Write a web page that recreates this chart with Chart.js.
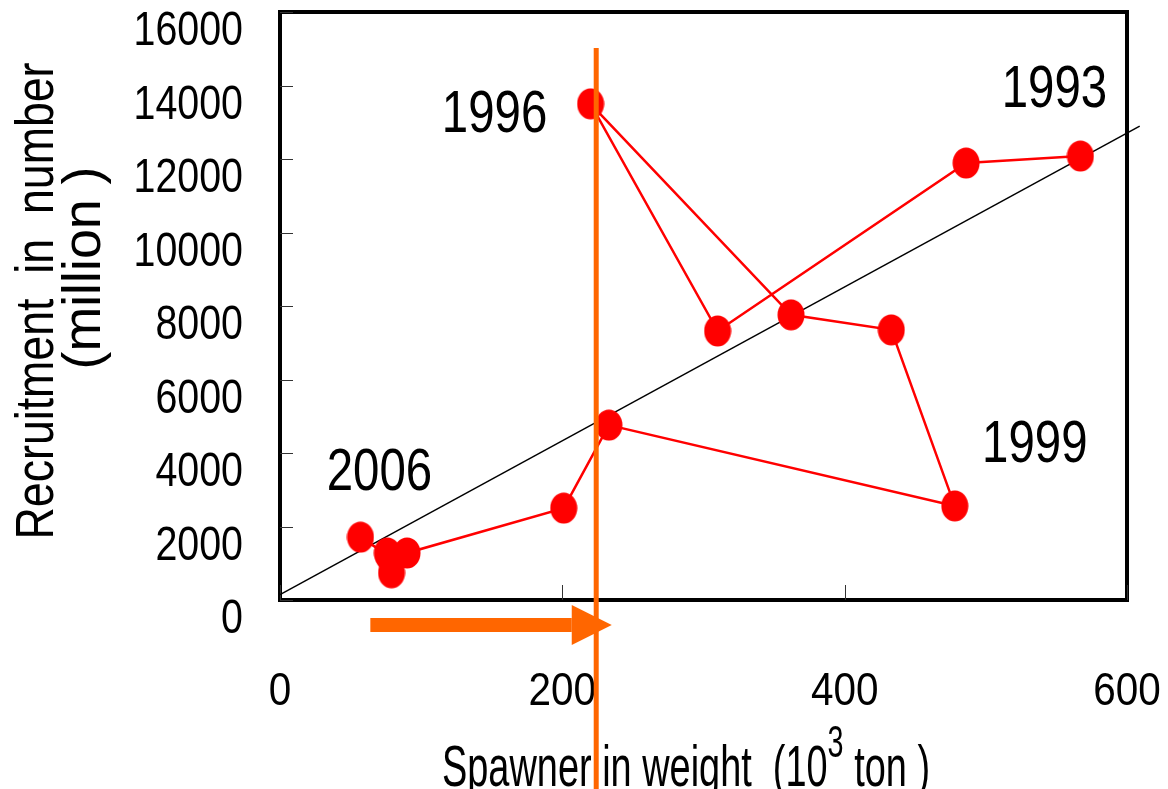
<!DOCTYPE html>
<html>
<head>
<meta charset="utf-8">
<script src="https://cdn.jsdelivr.net/npm/chart.js@4.4.1/dist/chart.umd.min.js"></script>
<style>
  html, body { margin: 0; padding: 0; background: #fff; }
</style>
</head>
<body>
<canvas id="chart" width="1168" height="789"></canvas>
<script>
// stock-recruitment series, one point per year
const years = [1993, 1994, 1995, 1996, 1997, 1998, 1999, 2000, 2001, 2002, 2003, 2004, 2005, 2006];
const spawner = [567, 486, 310, 220, 362, 433, 478, 233, 201, 90, 79, 76, 77, 57];
const recruitment = [12080, 11890, 7320, 13500, 7760, 7350, 2560, 4760, 2500, 1280, 740, 1280, 1200, 1710];
const labelledYears = [1993, 1996, 1999, 2006];

// fitted line (end points)
const regressionX = [0, 609];
const regressionY = [148, 12895];

// orange marker: vertical line and arrow below the axis
const thresholdX = 224;
const thresholdTop = 15020;
const arrowX = [64, 235];

const xTicks = [0, 200, 400, 600];
const yTicks = [0, 2000, 4000, 6000, 8000, 10000, 12000, 14000, 16000];

const FONT = "'Liberation Sans', Arial, sans-serif";
const ORANGE = "#ff6600";

// where the year labels sit relative to their point (px)
const labelOffsets = {
    1993: [-26, -49],
    1996: [-96, 28],
    1999: [80, -44],
    2006: [19, -47],
};

// markers in the original are slightly taller than wide
const dot = document.createElement("canvas");
dot.width = 28;
dot.height = 32;
const dctx = dot.getContext("2d");
dctx.fillStyle = "#ff0000";
dctx.beginPath();
dctx.ellipse(14, 16, 13.5, 15.5, 0, 0, Math.PI * 2);
dctx.fill();

// the original uses a narrow face: squeeze regular text horizontally
function narrowText(ctx, text, x, y, sx, align) {
    const w = ctx.measureText(text).width * sx;
    let left = x;
    if (align === "center") left = x - w / 2;
    else if (align === "right") left = x - w;
    ctx.save();
    ctx.translate(left, y);
    ctx.scale(sx, 1);
    ctx.textAlign = "left";
    ctx.fillText(text, 0, 0);
    ctx.restore();
    return w;
}

const decorations = {
    id: "decorations",
    beforeDatasetsDraw(chart) {
        const { ctx, chartArea: a, scales } = chart;
        ctx.save();
        ctx.strokeStyle = "#000";
        ctx.lineWidth = 4;
        ctx.strokeRect(a.left, a.top, a.right - a.left, a.bottom - a.top);

        // tick marks point inwards
        ctx.lineWidth = 1;
        ctx.strokeStyle = "#333";
        ctx.beginPath();
        scales.y.ticks.forEach((t) => {
            const y = Math.round(scales.y.getPixelForValue(t.value)) + 0.5;
            ctx.moveTo(a.left, y);
            ctx.lineTo(a.left + 13, y);
        });
        scales.x.ticks.forEach((t) => {
            const x = Math.round(scales.x.getPixelForValue(t.value)) + 0.5;
            ctx.moveTo(x, a.bottom);
            ctx.lineTo(x, a.bottom - 15);
        });
        ctx.stroke();

        // tick labels
        ctx.fillStyle = "#000";
        ctx.textBaseline = "alphabetic";
        ctx.font = "48px " + FONT;
        scales.y.ticks.forEach((t) => {
            narrowText(ctx, String(t.value), a.left - 37, scales.y.getPixelForValue(t.value) + 33, 0.82, "right");
        });
        ctx.font = "46px " + FONT;
        scales.x.ticks.forEach((t) => {
            narrowText(ctx, String(t.value), scales.x.getPixelForValue(t.value), 705, 0.88, "center");
        });
        ctx.restore();
    },
    afterDatasetsDraw(chart) {
        const { ctx, chartArea: a, scales } = chart;
        const xs = scales.x, ys = scales.y;
        ctx.save();

        // year labels
        ctx.fillStyle = "#000";
        ctx.font = "60px " + FONT;
        ctx.textBaseline = "alphabetic";
        labelledYears.forEach((yr) => {
            const i = years.indexOf(yr);
            const [dx, dy] = labelOffsets[yr];
            narrowText(ctx, String(yr), xs.getPixelForValue(spawner[i]) + dx, ys.getPixelForValue(recruitment[i]) + dy, 0.79, "center");
        });

        // orange vertical line
        const vx = xs.getPixelForValue(thresholdX);
        ctx.strokeStyle = ORANGE;
        ctx.lineWidth = 5;
        ctx.beginPath();
        ctx.moveTo(vx, ys.getPixelForValue(thresholdTop));
        ctx.lineTo(vx, chart.height);
        ctx.stroke();

        // orange arrow under the x axis
        const x0 = xs.getPixelForValue(arrowX[0]);
        const x1 = xs.getPixelForValue(arrowX[1]);
        const cy = a.bottom + 25;
        ctx.fillStyle = ORANGE;
        ctx.fillRect(x0, cy - 7, x1 - 40 - x0, 14);
        ctx.beginPath();
        ctx.moveTo(x1 - 40, cy - 20);
        ctx.lineTo(x1, cy);
        ctx.lineTo(x1 - 40, cy + 20);
        ctx.closePath();
        ctx.fill();
        ctx.restore();
    },
    beforeDraw(chart) {
        const { ctx } = chart;
        ctx.save();
        ctx.fillStyle = "#000";
        ctx.textBaseline = "alphabetic";

        // x title, with a raised exponent
        const p1 = "Spawner in weight  (10", p2 = "3", p3 = " ton )";
        ctx.font = "58px " + FONT;
        const w1 = ctx.measureText(p1).width, w3 = ctx.measureText(p3).width;
        ctx.font = "44px " + FONT;
        const w2 = ctx.measureText(p2).width;
        const sx = 488 / (w1 + w2 + w3);
        let x = 442;
        const base = 786;
        ctx.font = "58px " + FONT;
        x += narrowText(ctx, p1, x, base, sx, "left");
        ctx.font = "44px " + FONT;
        x += narrowText(ctx, p2, x, base - 29, sx, "left");
        ctx.font = "58px " + FONT;
        narrowText(ctx, p3, x, base, sx, "left");

        // y title, two rotated lines
        ctx.font = "54px " + FONT;
        ctx.translate(53, 301);
        ctx.rotate(-Math.PI / 2);
        const l1 = "Recruitment  in  number", l2 = "(million )";
        narrowText(ctx, l1, 0, 0, 477 / ctx.measureText(l1).width, "center");
        narrowText(ctx, l2, 33, 47, 203 / ctx.measureText(l2).width, "center");
        ctx.restore();
    },
};

new Chart(document.getElementById("chart"), {
    type: "scatter",
    data: {
        datasets: [
            {
                label: "Recruitment",
                data: years.map((yr, i) => ({ x: spawner[i], y: recruitment[i] })),
                showLine: true,
                borderColor: "#ff0000",
                borderWidth: 2.5,
                pointStyle: dot,
                pointRadius: 14,
                order: 1,
            },
            {
                label: "Regression",
                data: regressionX.map((x, i) => ({ x: x, y: regressionY[i] })),
                showLine: true,
                borderColor: "#000",
                borderWidth: 1.5,
                pointRadius: 0,
                clip: false,
                order: 2,
            },
        ],
    },
    options: {
        responsive: false,
        animation: false,
        events: [],
        layout: { autoPadding: false, padding: { left: 0, top: 12, right: 41, bottom: 0 } },
        plugins: { legend: { display: false }, tooltip: { enabled: false } },
        scales: {
            x: {
                type: "linear",
                min: 0,
                max: 600,
                afterBuildTicks: (s) => { s.ticks = xTicks.map((v) => ({ value: v })); },
                afterFit: (s) => { s.height = 189; },
                grid: { display: false, drawTicks: false },
                border: { display: false },
                ticks: { display: false },
            },
            y: {
                type: "linear",
                min: 0,
                max: 16000,
                afterBuildTicks: (s) => { s.ticks = yTicks.map((v) => ({ value: v })); },
                afterFit: (s) => { s.width = 280; },
                grid: { display: false, drawTicks: false },
                border: { display: false },
                ticks: { display: false },
            },
        },
    },
    plugins: [decorations],
});
</script>
</body>
</html>
